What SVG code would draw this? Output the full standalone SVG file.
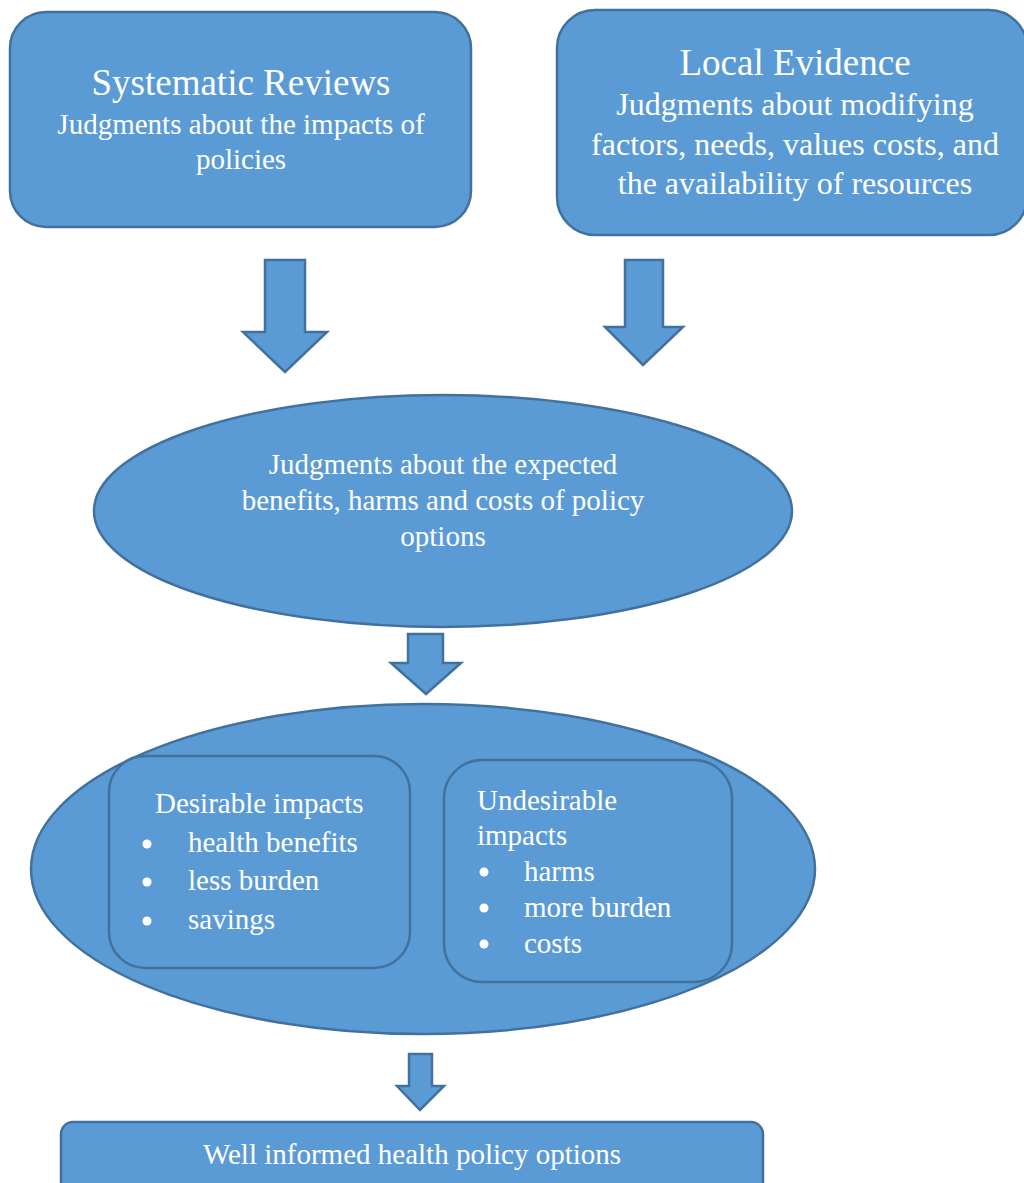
<svg xmlns="http://www.w3.org/2000/svg" width="1024" height="1183" viewBox="0 0 1024 1183">
  <style>
    .shape { fill: #5B9BD5; stroke: #41719C; stroke-width: 2.5; }
    .txt { fill: #ffffff; font-family: "Liberation Serif", "Times New Roman", serif; font-size: 29px; }
    .mid { text-anchor: middle; }
    .title { font-size: 37px; }
    .big { font-size: 32px; }
  </style>
  <rect width="1024" height="1183" fill="#ffffff"/>

  <g id="systematic-reviews">
    <rect class="shape" x="10" y="12" width="461" height="215" rx="36" ry="36"/>
    <text class="txt mid title" x="241" y="95">Systematic Reviews</text>
    <text class="txt mid" x="241" y="134">Judgments about the impacts of</text>
    <text class="txt mid" x="241" y="169">policies</text>
  </g>

  <g id="local-evidence">
    <rect class="shape" x="557" y="10" width="470" height="225" rx="38" ry="38"/>
    <text class="txt mid title" x="795" y="75">Local Evidence</text>
    <text class="txt mid big" x="795" y="115">Judgments about modifying</text>
    <text class="txt mid big" x="795" y="155">factors, needs, values costs, and</text>
    <text class="txt mid big" x="795" y="194">the availability of resources</text>
  </g>

  <g id="connectors">
    <polygon class="shape" points="265,260 305,260 305,332 327,332 285,372 243,332 265,332"/>
    <polygon class="shape" points="625,260 663,260 663,327 683,327 643,365 605,327 625,327"/>
    <polygon class="shape" points="408,634 443,634 443,663 461,663 426,694 391,663 408,663"/>
    <polygon class="shape" points="409,1054 432,1054 432,1086 444,1086 420,1110 397,1086 409,1086"/>
  </g>

  <g id="expected-judgments">
    <ellipse class="shape" cx="443" cy="511" rx="349" ry="116"/>
    <text class="txt mid" x="443" y="474">Judgments about the expected</text>
    <text class="txt mid" x="443" y="510">benefits, harms and costs of policy</text>
    <text class="txt mid" x="443" y="546">options</text>
  </g>

  <g id="impacts">
    <ellipse class="shape" cx="423" cy="869" rx="392" ry="165"/>
    <g id="desirable-impacts">
      <rect class="shape" x="109" y="756" width="301" height="212" rx="36" ry="36"/>
      <text class="txt" x="155" y="813">Desirable impacts</text>
      <circle cx="147" cy="844" r="4.5" fill="#ffffff"/>
      <circle cx="147" cy="882" r="4.5" fill="#ffffff"/>
      <circle cx="147" cy="921" r="4.5" fill="#ffffff"/>
      <text class="txt" x="188" y="852">health benefits</text>
      <text class="txt" x="188" y="890">less burden</text>
      <text class="txt" x="188" y="929">savings</text>
    </g>
    <g id="undesirable-impacts">
      <rect class="shape" x="444" y="760" width="288" height="222" rx="38" ry="38"/>
      <text class="txt" x="477" y="810">Undesirable</text>
      <text class="txt" x="477" y="845">impacts</text>
      <circle cx="484" cy="872" r="4.5" fill="#ffffff"/>
      <circle cx="484" cy="908" r="4.5" fill="#ffffff"/>
      <circle cx="484" cy="944" r="4.5" fill="#ffffff"/>
      <text class="txt" x="524" y="881">harms</text>
      <text class="txt" x="524" y="917">more burden</text>
      <text class="txt" x="524" y="953">costs</text>
    </g>
  </g>

  <g id="policy-options">
    <rect class="shape" x="61" y="1122" width="702" height="80" rx="12" ry="12"/>
    <text class="txt mid" x="412" y="1164">Well informed health policy options</text>
  </g>
</svg>
